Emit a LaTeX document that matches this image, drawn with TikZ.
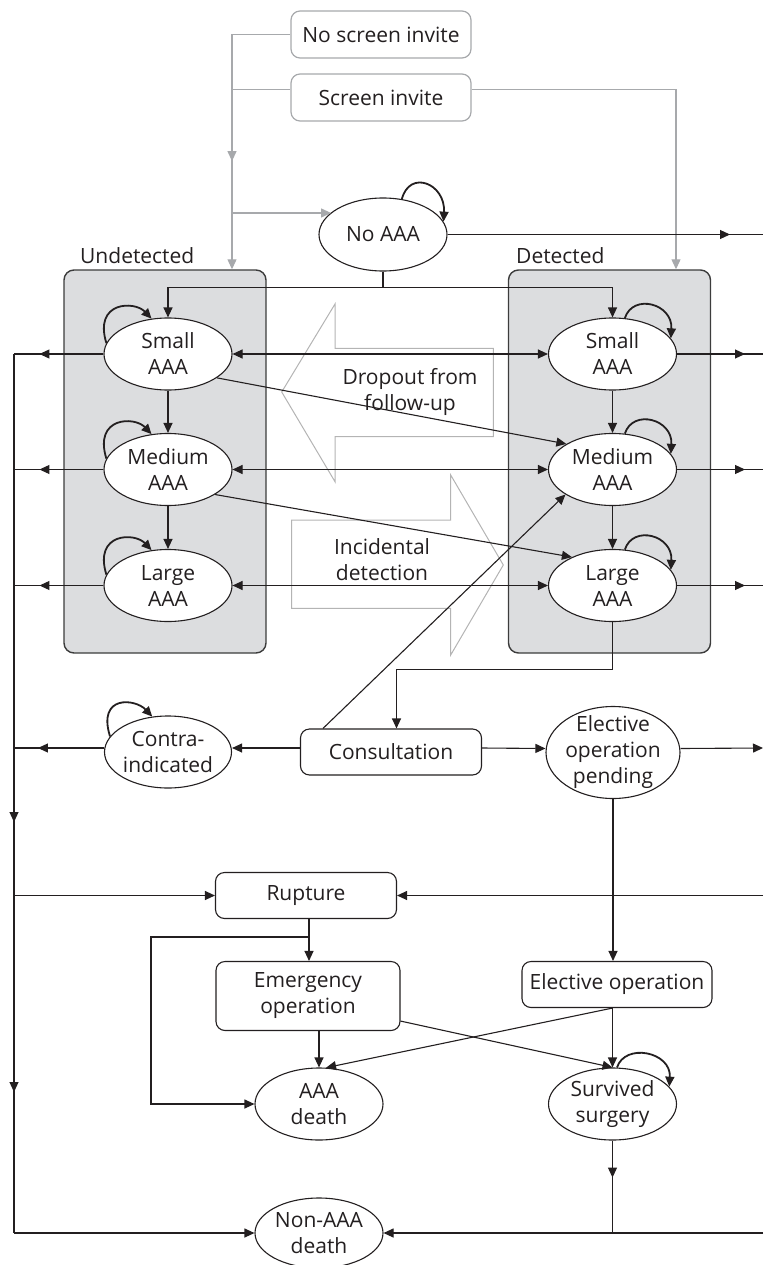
\documentclass[tikz,border=0pt]{standalone}
\usepackage{fontspec}
\setmainfont{Open Sans}
\usetikzlibrary{arrows.meta,shapes.geometric,decorations.markings,calc}
\definecolor{ink}{HTML}{231F20}
\definecolor{panelfill}{HTML}{DCDDDF}
\definecolor{paneldraw}{HTML}{3C3C3C}
\definecolor{lgray}{HTML}{A7A9AC}
\definecolor{agray}{HTML}{B4B4B4}
\tikzset{
  every node/.style={font=\fontsize{21}{26}\selectfont, text=ink},
  conn/.style={color=ink, line width=1.1pt},
  arr/.style={conn, ->},
  dblarr/.style={conn, <->},
  gline/.style={color=lgray, line width=1.2pt},
  state/.style={ellipse, draw=ink, line width=1.1pt, fill=white, inner sep=-5pt,
    minimum width=128pt, minimum height=72pt, align=center},
  rbox/.style={rectangle, rounded corners=9pt, draw=ink, line width=1.1pt, fill=white,
    minimum width=181pt, minimum height=46pt, inner sep=0pt, align=center},
  gbox/.style={rbox, draw=lgray, line width=1.2pt, minimum width=180pt, minimum height=47pt},
  panel/.style={rectangle, draw=paneldraw, fill=panelfill, line width=1.4pt, rounded corners=10pt,
    minimum width=202pt, minimum height=383pt, inner sep=0pt},
  selfloop/.style={color=ink, line width=1.8pt, ->},
  midarrow/.style={postaction={decorate}, decoration={markings, mark=at position #1 with {\arrow{>}}}},
  bigarrow/.style={draw=agray, line width=1pt, fill=white},
  lbl/.style={anchor=base west, inner sep=0pt}
}
\begin{document}
\begin{tikzpicture}[x=1pt, y=-1pt, >={Triangle[length=10pt,width=9pt]}]
\useasboundingbox (0,0) rectangle (763,1265);

% panels
\node[panel] (upanel) at (165,461.5) {};
\node[panel] (dpanel) at (609.5,461.5) {};
\node[lbl] (ulab) at (80,263) {Undetected};
\node[lbl] (dlab) at (516,263) {Detected};

% big arrows
\draw[bigarrow] (281.7,392) -- (335,304) -- (335,348.3) -- (493.3,348.3) -- (493.3,436.7)
  -- (335,436.7) -- (335,481.7) -- cycle;
\draw[bigarrow] (291.7,520) -- (450.7,520) -- (450.7,475) -- (503.3,565) -- (450.7,655)
  -- (450.7,608.3) -- (291.7,608.3) -- cycle;
\node[align=center] (dropt) at (410,392) {Dropout from\\follow-up};
\node[align=center] (incid) at (382,560) {Incidental\\detection};

% top boxes
\node[gbox] (nsi) at (381,34.5) {No screen invite};
\node[gbox] (si) at (381,97.5) {Screen invite};

% states
\node[state, minimum height=73pt] (noaaa) at (383,234.5) {No AAA};
\node[state] (us) at (168,354) {Small\\AAA};
\node[state] (um) at (168,469.5) {Medium\\AAA};
\node[state] (ul) at (168,585.5) {Large\\AAA};
\node[state] (ds) at (612.5,354) {Small\\AAA};
\node[state] (dm) at (612.5,469.5) {Medium\\AAA};
\node[state] (dl) at (612.5,585.5) {Large\\AAA};
\node[state, minimum width=127pt] (contra) at (168,752) {Contra-\\indicated};
\node[rbox] (cons) at (391,752) {Consultation};
\node[state, minimum width=134pt, minimum height=92pt] (eop) at (613,752.5) {Elective\\operation\\pending};
\node[rbox] (rup) at (306,895.5) {Rupture};
\node[rbox, minimum width=184pt, minimum height=69pt] (em) at (308,996) {Emergency\\operation};
\node[rbox, minimum width=190pt] (eo) at (617,984.5) {Elective operation};
\node[state] (aaad) at (319,1104) {AAA\\death};
\node[state] (ss) at (612.5,1104) {Survived\\surgery};
\node[state, minimum height=70pt] (naaa) at (319,1233) {Non-AAA\\death};

% coordinates
\coordinate (gtop) at (232,34.5);
\coordinate (gb) at (232,213);
\coordinate (gr) at (676,0);
\coordinate (sil) at ([yshift=8pt]si.west);
\coordinate (sir) at ([yshift=8pt]si.east);
\coordinate (eN) at (763,234.5);
\coordinate (eS) at (763,354);
\coordinate (eM) at (763,469.5);
\coordinate (eL) at (763,585.5);
\coordinate (eE) at (763,748);
\coordinate (eR) at (763,895.5);
\coordinate (eD) at (763,1233);
\coordinate (wS) at (14,354);
\coordinate (wM) at (14,469.5);
\coordinate (wL) at (14,585.5);
\coordinate (wC) at (14,748);
\coordinate (wR) at (14,895.5);
\coordinate (wD) at (14,1233);
\coordinate (rs) at ([xshift=3pt]rup.south);
\coordinate (rb) at (309,937);

% gray top connectors
\draw[gline, ->, midarrow=185pt] (nsi.west) -- (gtop) -- (gtop |- upanel.north);
\draw[gline] (sil) -- (gtop |- sil);
\draw[gline, ->] (sir) -- (sir -| gr) -- (gr |- dpanel.north);
\draw[gline, ->] (gb) -- (gb -| noaaa.157);

% No AAA
\draw[conn, midarrow=-33pt] (noaaa.east) -- (eN);
\draw[arr] (noaaa.south) -- ++(0,15.5) -| (us.north);
\draw[arr] (noaaa.south) -- ++(0,15.5) -| (ds.north);

% progression
\draw[arr] (us) -- (um);
\draw[arr] (um) -- (ul);
\draw[arr] (ds) -- (dm);
\draw[arr] (dm) -- (dl);
\draw[dblarr] (us) -- (ds);
\draw[dblarr] (um) -- (dm);
\draw[dblarr] (ul) -- (dl);
\draw[arr] (us.-26.5) -- (dm.151);
\draw[arr] (um.-28.5) -- (dl.145);

% exits left
\draw[conn, midarrow=64pt] (us.west) -- (wS);
\draw[conn, midarrow=64pt] (um.west) -- (wM);
\draw[conn, midarrow=64pt] (ul.west) -- (wL);
\draw[conn, midarrow=66pt] ([yshift=4pt]contra.west) -- (wC);
\draw[conn, postaction={decorate}, decoration={markings,
  mark=at position 468pt with {\arrow{>}}, mark=at position 738pt with {\arrow{>}}}] (wS) -- (wD);
\draw[arr] (wD) -- (naaa.west);
\draw[arr] (wR) -- (rup.west);

% exits right
\draw[conn, midarrow=-18pt] (ds.east) -- (eS);
\draw[conn, midarrow=-18pt] (dm.east) -- (eM);
\draw[conn, midarrow=-18pt] (dl.east) -- (eL);
\draw[arr] ([yshift=4pt]eop.east) -- (eE);
\draw[arr] (eR) -- (rup.east);
\draw[arr] (eD) -- (naaa.east);

% consultation
\draw[arr] (dl.south) -- ++(0,47) -| ([xshift=5.5pt]cons.north);
\draw[arr] ([xshift=23pt]cons.north west) -- (dm.208);
\draw[arr] ([yshift=4pt]cons.west) -- ([yshift=4pt]contra.east);
\draw[arr] ([yshift=4pt]cons.east) -- ([yshift=4pt]eop.west);
\draw[arr] (eop.south) -- (eop.south |- eo.north);

% rupture and operations
\draw[arr] (rs) -- (rs |- em.north);
\draw[arr] (rb) -- ++(-158,0) |- (aaad.west);
\draw[arr] (aaad.north |- em.south) -- (aaad.north);
\draw[arr] ([yshift=10pt]em.south east) -- (ss.north);
\draw[arr] (ss.north |- eo.south) -- (aaad.79);
\draw[arr] (ss.north |- eo.south) -- (ss.north);
\draw[conn, midarrow=37pt] (ss.south) -- (ss.south |- eD);

% self loops
\draw[selfloop] (noaaa.62) .. controls +(8,-30) and +(2,-38) .. (noaaa.12);
\draw[selfloop] (us.170) .. controls +(-13,-42) and +(-17,-18) .. (us.115);
\draw[selfloop] (um.170) .. controls +(-13,-42) and +(-17,-18) .. (um.115);
\draw[selfloop] (ul.170) .. controls +(-13,-42) and +(-17,-18) .. (ul.115);
\draw[selfloop] (ds.71) .. controls +(8,-25) and +(2,-35) .. (ds.15);
\draw[selfloop] (dm.71) .. controls +(8,-25) and +(2,-35) .. (dm.15);
\draw[selfloop] (dl.71) .. controls +(8,-25) and +(2,-35) .. (dl.15);
\draw[selfloop] (contra.165) .. controls +(-13,-42) and +(-17,-18) .. (contra.114);
\draw[selfloop] (ss.83) .. controls +(8,-25) and +(2,-35) .. (ss.17);
\end{tikzpicture}
\end{document}
